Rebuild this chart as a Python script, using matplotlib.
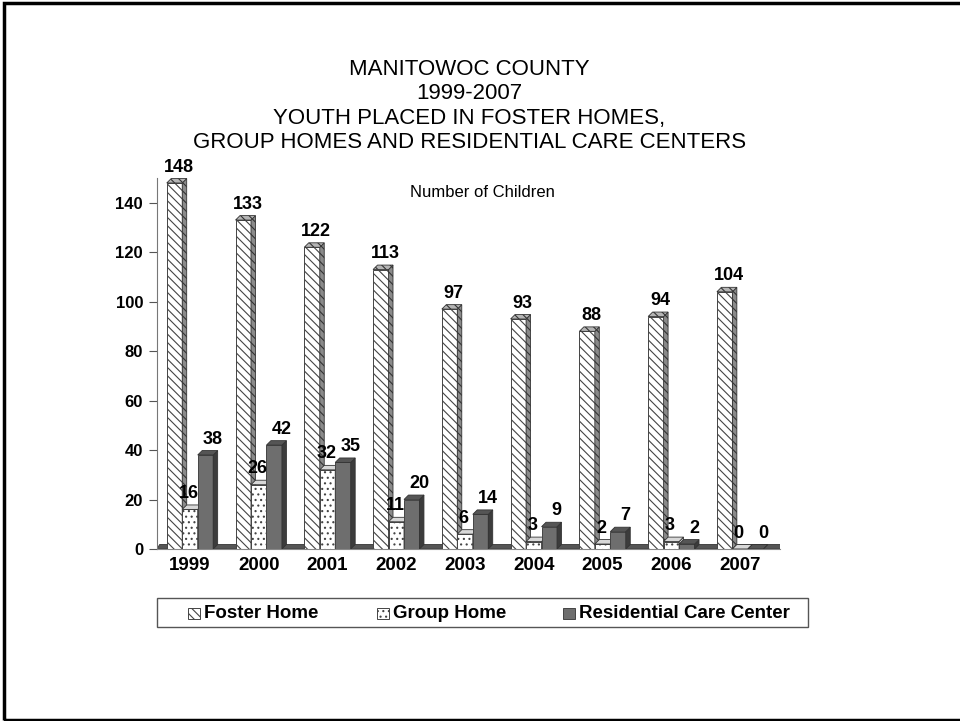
import numpy as np
import matplotlib
matplotlib.use("Agg")
from matplotlib import pyplot as plt
from matplotlib.patches import Polygon, Rectangle

plt.rcParams['font.family'] = ['Liberation Sans', 'DejaVu Sans']
plt.rcParams['hatch.linewidth'] = 0.8

years = ['1999', '2000', '2001', '2002', '2003', '2004', '2005', '2006', '2007']
foster_home = [148, 133, 122, 113, 97, 93, 88, 94, 104]
group_home = [16, 26, 32, 11, 6, 3, 2, 3, 0]
residential_care = [38, 42, 35, 20, 14, 9, 7, 2, 0]

# front, side, top colours, hatch and label nudge for each series
series = [
    ('Foster Home', foster_home, 'white', '#8a8a8a', '#b5b5b5', '\\\\\\\\', 0.06),
    ('Group Home', group_home, 'white', '#d0d0d0', '#d8d8d8', '...', -0.02),
    ('Residential Care Center', residential_care, '#6e6e6e', '#3c3c3c', '#555555', None, 0.11),
]

fig = plt.figure(figsize=(9.6, 7.21), dpi=100)
ax = fig.add_axes([0.1635, 0.2386, 0.649, 0.5145])

x = np.arange(len(years))
width = 0.225
dx, dy = 0.065, 1.8
xmin, xmax = -0.48, 8.58

# floor of the 3d chart
floor = Polygon([(xmin, 0), (xmax, 0), (xmax + dx * 0.6, dy), (xmin + dx * 0.6, dy)],
                closed=True, facecolor='#555555', edgecolor='#333333', lw=0.6, zorder=1)
ax.add_patch(floor)

for i, (name, vals, front, side, top, hatch, nudge) in enumerate(series):
    offs = (i - 1) * width
    z = 2 + i * 3
    bars = ax.bar(x + offs, vals, width, color=front, edgecolor='#444444', hatch=hatch,
                  linewidth=0.7, zorder=z, label=name)
    for b, v in zip(bars, vals):
        x0 = b.get_x()
        x1 = x0 + b.get_width()
        ax.add_patch(Polygon([(x1, 0), (x1 + dx, dy), (x1 + dx, v + dy), (x1, v)],
                             closed=True, facecolor=side, edgecolor='#333333',
                             hatch=hatch if i == 0 else None, lw=0.6, zorder=z + 1))
        ax.add_patch(Polygon([(x0, v), (x0 + dx, v + dy), (x1 + dx, v + dy), (x1, v)],
                             closed=True, facecolor=top, edgecolor='#333333',
                             hatch=hatch if i == 0 else None, lw=0.6, zorder=z + 1))
        ax.text(b.get_x() + b.get_width() / 2 + nudge, v + dy + 1.2, str(v),
                ha='center', va='bottom', fontsize=13, fontweight='bold', zorder=20)

ax.set_xlim(xmin, xmax)
ax.set_ylim(0, 150)
ax.set_yticks(range(0, 141, 20))
ax.set_xticks(x)
ax.set_xticklabels(years)
ax.tick_params(axis='y', labelsize=12, length=6, width=0.8, color='#555555', pad=4)
ax.tick_params(axis='x', labelsize=13.5, length=0, pad=6)
for lab in ax.get_xticklabels() + ax.get_yticklabels():
    lab.set_fontweight('bold')
for s in ['top', 'right']:
    ax.spines[s].set_visible(False)
ax.spines['left'].set_color('#777777')
ax.spines['bottom'].set_color('#888888')

fig.text(0.503, 0.733, 'Number of Children', ha='center', va='center', fontsize=12)

fig.text(0.489, 0.918, 'MANITOWOC COUNTY\n1999-2007\nYOUTH PLACED IN FOSTER HOMES,\n'
         'GROUP HOMES AND RESIDENTIAL CARE CENTERS',
         ha='center', va='top', fontsize=16, linespacing=1.2)

# legend box drawn by hand so the entries can sit where wanted
W, H = 960.0, 721.0
fig.patches.append(Rectangle((157 / W, 1 - 627 / H), 651 / W, 29 / H, transform=fig.transFigure,
                             fill=False, edgecolor='#555555', linewidth=1.0))
leg_x = [188, 377, 563]
for (name, vals, front, side, top, hatch, nudge), lx in zip(series, leg_x):
    fig.patches.append(Rectangle((lx / W, 1 - 619 / H), 12 / W, 11 / H,
                                 transform=fig.transFigure, facecolor=front,
                                 edgecolor='#444444', hatch=hatch, linewidth=0.7))
    fig.text((lx + 16) / W, 1 - 613 / H, name, ha='left', va='center',
             fontsize=13.5, fontweight='bold')

# slide border
fig.patches.append(Rectangle((0.004, 0.002), 1.2, 0.994, transform=fig.transFigure,
                             fill=False, edgecolor='black', linewidth=2.5))

fig.savefig('out.png', dpi=100)
